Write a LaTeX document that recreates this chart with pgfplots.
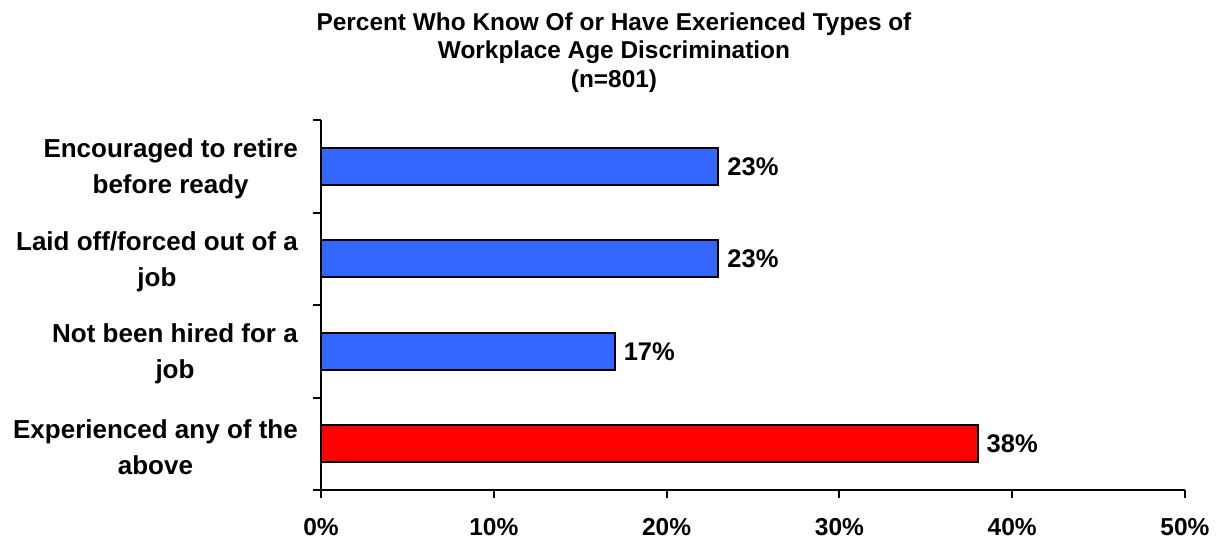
\documentclass[border=0pt]{standalone}
\usepackage{fontspec}
\setmainfont{Liberation Sans}
\usepackage{pgfplots}
\pgfplotsset{compat=1.18}
\definecolor{barblue}{HTML}{3366FF}
\definecolor{barred}{HTML}{FF0000}
\begin{document}
\begin{tikzpicture}
\begin{axis}[
  name=ax,
  scale only axis, width=864pt, height=370pt,
  xbar, bar width=37pt, bar shift=0pt,
  xmin=0, xmax=50, ymin=0.5, ymax=4.5,
  axis x line*=bottom, axis y line*=left,
  axis line style={line width=2pt, -},
  every tick/.style={black, line width=2pt},
  tick align=outside,
  major tick length=8pt,
  xtick={0,10,20,30,40,50},
  xticklabel={\pgfmathprintnumber{\tick}\%},
  xticklabel style={font=\fontsize{24.5}{28}\selectfont\bfseries, anchor=base, yshift=-37pt},
  ytick={0.5,1.5,2.5,3.5,4.5},
  yticklabels={},
  extra y ticks={1,2,3,4},
  extra y tick labels={{Experienced any of the\\above},{Not been hired for a\\job},{Laid off/forced out of a\\job},{Encouraged to retire\\before ready}},
  extra y tick style={major tick length=0pt, yticklabel style={font=\fontsize{26}{36}\selectfont\bfseries, align=center, anchor=east, inner sep=0pt, xshift=-23pt, yshift=-3pt}},
  /pgf/number format/assume math mode=true,
  nodes near coords={\pgfmathprintnumber{\pgfplotspointmeta}\%},
  nodes near coords style={font=\fontsize{25.5}{28}\selectfont\bfseries, anchor=west, inner sep=0pt, xshift=8pt, black},
  point meta=explicit,
  clip=false,
]
\addplot[draw=black, line width=2pt, fill=barblue] coordinates {(23,4) [23] (23,3) [23] (17,2) [17]};
\addplot[draw=black, line width=2pt, fill=barred] coordinates {(38,1) [38]};
\end{axis}
\node[anchor=base, font=\fontsize{24.4}{28}\selectfont\bfseries] at ([xshift=293pt,yshift=89pt]ax.north west) {Percent Who Know Of or Have Exerienced Types of};
\node[anchor=base, font=\fontsize{24.4}{28}\selectfont\bfseries] at ([xshift=293pt,yshift=61pt]ax.north west) {Workplace Age Discrimination};
\node[anchor=base, font=\fontsize{24.4}{28}\selectfont\bfseries] at ([xshift=293pt,yshift=32pt]ax.north west) {(n=801)};
\pgfresetboundingbox
\useasboundingbox ([xshift=-321pt,yshift=-53pt]ax.south west) rectangle ([xshift=899pt,yshift=120pt]ax.north west);
\end{tikzpicture}
\end{document}
